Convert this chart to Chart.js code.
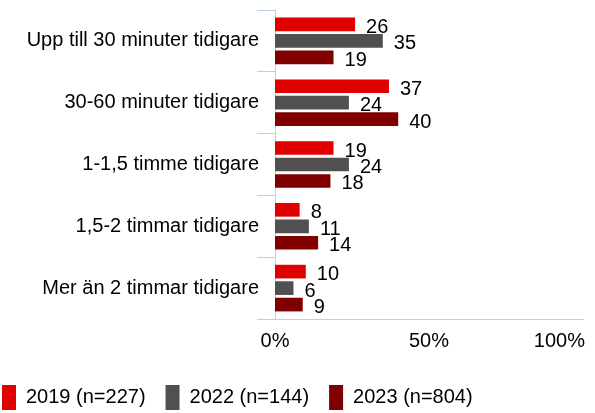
<!DOCTYPE html>
<html>
<head>
<meta charset="utf-8">
<script src="https://cdn.jsdelivr.net/npm/chart.js@4"></script>
<style>
  html, body { margin: 0; padding: 0; background: #fff; }
  #wrap { width: 595px; height: 413px; }
</style>
</head>
<body>
<div id="wrap"><canvas id="chart" width="595" height="413"></canvas></div>
<script>
// Chart data
const categories = [
    'Upp till 30 minuter tidigare',
    '30-60 minuter tidigare',
    '1-1,5 timme tidigare',
    '1,5-2 timmar tidigare',
    'Mer än 2 timmar tidigare'
];
const seriesLabels = ['2019 (n=227)', '2022 (n=144)', '2023 (n=804)'];
const values2019 = [26, 37, 19, 8, 10];
const values2022 = [35, 24, 24, 11, 6];
const values2023 = [19, 40, 18, 14, 9];
const xTickValues = [0, 50, 100];
const xTickLabels = ['0%', '50%', '100%'];

const colors = ['#e00000', '#505050', '#800000'];
const axisColor = '#bccfe6';
const fontFamily = "'Liberation Sans', Arial, sans-serif";

// Value labels to the right of each bar
const barLabels = {
    id: 'barLabels',
    afterDatasetsDraw(chart) {
        const ctx = chart.ctx;
        ctx.save();
        ctx.font = '20px ' + fontFamily;
        ctx.fillStyle = '#000';
        ctx.textAlign = 'left';
        ctx.textBaseline = 'middle';
        chart.data.datasets.forEach((ds, i) => {
            chart.getDatasetMeta(i).data.forEach((bar, j) => {
                ctx.fillText(String(ds.data[j]), bar.x + 11, bar.y + 3);
            });
        });
        ctx.restore();
    }
};

// X tick labels, last one kept inside the canvas
const xLabels = {
    id: 'xLabels',
    afterDraw(chart) {
        const ctx = chart.ctx;
        const scale = chart.scales.x;
        ctx.save();
        ctx.font = '20px ' + fontFamily;
        ctx.fillStyle = '#000';
        ctx.textAlign = 'left';
        ctx.textBaseline = 'middle';
        xTickValues.forEach((v, i) => {
            const text = xTickLabels[i];
            const w = ctx.measureText(text).width;
            let left = scale.getPixelForValue(v) - w / 2;
            if (left + w > 585) left = 585 - w;
            ctx.fillText(text, left, chart.chartArea.bottom + 22);
        });
        ctx.restore();
    }
};

// Put the legend where the reference has it
const legendPlace = {
    id: 'legendPlace',
    afterLayout(chart) {
        if (chart.legend) {
            chart.legend.left = -18;
            chart.legend.top = 365;
        }
    }
};

const datasets = [values2019, values2022, values2023].map((vals, i) => ({
    label: seriesLabels[i],
    data: vals,
    backgroundColor: colors[i],
    borderWidth: 0,
    categoryPercentage: 0.8,
    barPercentage: 0.83
}));

new Chart(document.getElementById('chart'), {
    type: 'bar',
    data: { labels: categories, datasets: datasets },
    plugins: [barLabels, xLabels, legendPlace],
    options: {
        indexAxis: 'y',
        responsive: false,
        animation: false,
        layout: { padding: { top: 7, right: 12, left: 0, bottom: 0 } },
        plugins: {
            legend: {
                position: 'bottom',
                align: 'start',
                labels: {
                    boxWidth: 14,
                    boxHeight: 25,
                    padding: 20,
                    color: '#000',
                    font: { family: fontFamily, size: 20 }
                }
            },
            tooltip: { enabled: false }
        },
        scales: {
            x: {
                min: 0,
                max: 100,
                afterFit(scale) { scale.height = 39; },
                grid: { display: false, drawTicks: false },
                border: { display: true, color: axisColor, width: 1 },
                ticks: { display: false, stepSize: 50 }
            },
            y: {
                afterFit(scale) { scale.width = 275; },
                grid: {
                    offset: true,
                    drawOnChartArea: false,
                    tickLength: 18,
                    color: axisColor
                },
                border: { display: true, color: axisColor, width: 1 },
                ticks: {
                    padding: -2,
                    color: '#000',
                    font: { family: fontFamily, size: 20 }
                }
            }
        }
    }
});
</script>
</body>
</html>
